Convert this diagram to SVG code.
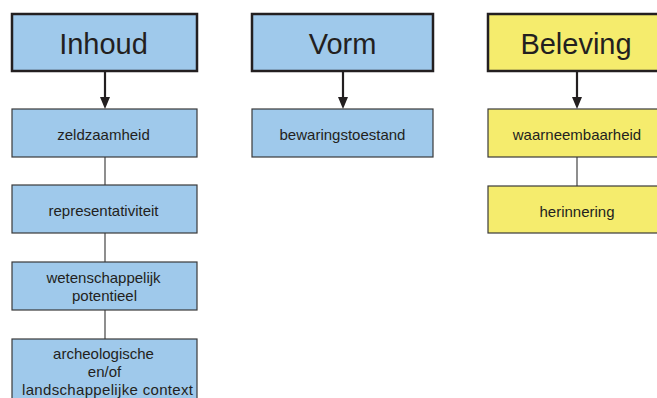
<svg xmlns="http://www.w3.org/2000/svg" width="657" height="398" viewBox="0 0 657 398">
<style>
.hdr{stroke:#231f20;stroke-width:2.5}
.sub{stroke:#3a3a3a;stroke-width:1.2}
.blue{fill:#9fc9eb}
.yellow{fill:#f5ec6d}
.ht{font-family:"Liberation Sans",Arial,sans-serif;font-size:29px;fill:#231f20;text-anchor:middle}
.st{font-family:"Liberation Sans",Arial,sans-serif;font-size:15px;fill:#231f20;text-anchor:middle}
.ln{stroke:#444;stroke-width:1.2;fill:none}
.ar{stroke:#231f20;stroke-width:2.2;fill:none}
.head{fill:#231f20}
</style>
<rect width="657" height="398" fill="#ffffff"/>
<g id="connectors">
<line class="ar" x1="105" y1="71" x2="105" y2="98"/>
<path class="head" d="M100,97 L110,97 L105,109 Z"/>
<line class="ar" x1="343" y1="71" x2="343" y2="98"/>
<path class="head" d="M338,97 L348,97 L343,109 Z"/>
<line class="ar" x1="577" y1="71" x2="577" y2="98"/>
<path class="head" d="M572,97 L582,97 L577,109 Z"/>
<line class="ln" x1="105" y1="157" x2="105" y2="185"/>
<line class="ln" x1="105" y1="233" x2="105" y2="262"/>
<line class="ln" x1="105" y1="310" x2="105" y2="339"/>
<line class="ln" x1="577" y1="157" x2="577" y2="186"/>
</g>
<g id="inhoud">
<rect class="hdr blue" x="12" y="14" width="185" height="57"/>
<text class="ht" x="103.5" y="53.5">Inhoud</text>
</g>
<g id="vorm">
<rect class="hdr blue" x="252" y="14" width="181" height="57"/>
<text class="ht" x="342.5" y="53.5">Vorm</text>
</g>
<g id="beleving">
<rect class="hdr yellow" x="488" y="14" width="180" height="57"/>
<text class="ht" x="576" y="53.5">Beleving</text>
</g>
<g id="zeldzaamheid">
<rect class="sub blue" x="12" y="109" width="185" height="48"/>
<text class="st" x="103.5" y="140">zeldzaamheid</text>
</g>
<g id="representativiteit">
<rect class="sub blue" x="12" y="185" width="185" height="48"/>
<text class="st" x="103.5" y="216">representativiteit</text>
</g>
<g id="wetenschappelijk">
<rect class="sub blue" x="12" y="262" width="185" height="48"/>
<text class="st" x="103.5" y="282.5">wetenschappelijk</text>
<text class="st" x="104.5" y="300.5">potentieel</text>
</g>
<g id="context">
<rect class="sub blue" x="12" y="339" width="185" height="75"/>
<text class="st" x="103.5" y="359">archeologische</text>
<text class="st" x="104.5" y="377">en/of</text>
<text class="st" x="107.5" y="395" textLength="171" lengthAdjust="spacing">landschappelijke context</text>
</g>
<g id="bewaringstoestand">
<rect class="sub blue" x="252" y="109" width="181" height="48"/>
<text class="st" x="342.5" y="140">bewaringstoestand</text>
</g>
<g id="waarneembaarheid">
<rect class="sub yellow" x="488" y="109" width="180" height="48"/>
<text class="st" x="577" y="140">waarneembaarheid</text>
</g>
<g id="herinnering">
<rect class="sub yellow" x="488" y="186" width="180" height="47"/>
<text class="st" x="577" y="217">herinnering</text>
</g>
</svg>
